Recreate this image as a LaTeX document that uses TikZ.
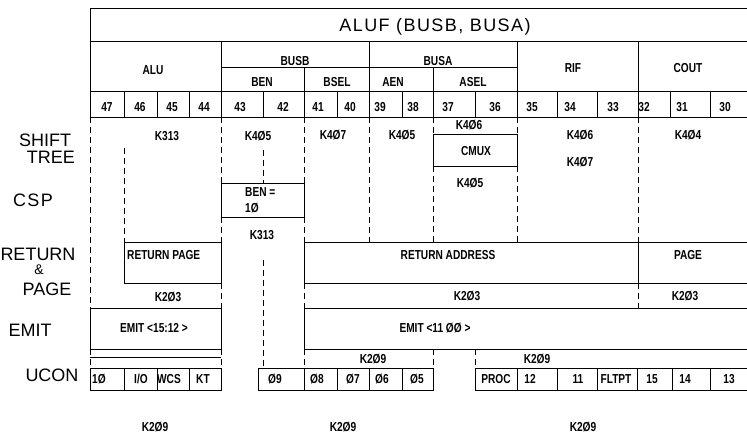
\documentclass[tikz,border=0pt]{standalone}
\usepackage{fontspec}
\setmainfont{Liberation Sans}
\newfontfamily\cond[FakeStretch=0.78]{Liberation Sans}
\newfontfamily\wide[LetterSpace=8]{Liberation Sans}
\begin{document}
\begin{tikzpicture}[x=1pt,y=-1pt,
  frame/.style={line width=0.9pt},
  dsh/.style={line width=0.9pt, dash pattern=on 6pt off 4pt},
  lbl/.style={font=\cond\bfseries\fontsize{13}{14}\selectfont, inner sep=0pt},
  big/.style={font=\wide\fontsize{18}{20}\selectfont, inner sep=0pt},
  side/.style={font=\fontsize{18}{20}\selectfont, inner sep=0pt},
]
\useasboundingbox (0,0) rectangle (747,439);

% ---------- header frame ----------
\draw[frame] (747,8) -- (90,8) -- (90,117);
\draw[frame] (90,41) -- (747,41);
\draw[frame] (221,67) -- (517,67);
\draw[frame] (90,91) -- (747,91);
\draw[frame] (90,117) -- (747,117);
\foreach \x in {221,369,517,638} \draw[frame] (\x,41) -- (\x,117);
\foreach \x in {304,433} \draw[frame] (\x,67) -- (\x,117);
\foreach \x in {124,157,189,263,337,402,475,557,597,670,710} \draw[frame] (\x,91) -- (\x,117);

\node[big] (title) at (435,27) {ALUF (BUSB, BUSA)};
\node[lbl] (galu) at (153,70) {ALU};
\node[lbl] (gbusb) at (295,61) {BUSB};
\node[lbl] (gbusa) at (438,61) {BUSA};
\node[lbl] (gben) at (262,82) {BEN};
\node[lbl] (gbsel) at (337,82) {BSEL};
\node[lbl] (gaen) at (393,82) {AEN};
\node[lbl] (gasel) at (473,82) {ASEL};
\node[lbl] (grif) at (573,68) {RIF};
\node[lbl] (gcout) at (688,68) {COUT};

\foreach \n/\x in {47/107,46/140,45/172,44/204,43/240,42/283,41/318,40/350,39/380,38/413,37/448,36/495,35/532,34/570,33/613,32/644,31/682,30/725}
  \node[lbl] (b\n) at (\x,107) {\n};

% ---------- side labels ----------
\node[side] (shift) at (45,140) {SHIFT};
\node[side] (tree) at (51,157) {TREE};
\node[side, font=\wide\fontsize{18}{20}\selectfont] (csp) at (33,200) {CSP};
\node[side] (ret) at (38,254) {RETURN};
\node[side, font=\fontsize{14}{15}\selectfont] (amp) at (39,270) {\&};
\node[side] (page) at (47,289) {PAGE};
\node[side] (emit) at (30,330) {EMIT};
\node[side] (ucon) at (52,375) {UCON};

% ---------- dashed verticals ----------
\draw[dsh] (90,117) -- (90,308);
\draw[dsh] (90,349) -- (90,368);
\draw[dsh] (124,148) -- (124,242);
\draw[dsh] (221,117) -- (221,183);
\draw[dsh] (221,217) -- (221,242);
\draw[dsh] (221,283) -- (221,308);
\draw[dsh] (221,349) -- (221,368);
\draw[dsh] (263,150) -- (263,183);
\draw[dsh] (263,260) -- (263,368);
\draw[dsh] (304,117) -- (304,183);
\draw[dsh] (304,217) -- (304,242);
\draw[dsh] (304,283) -- (304,308);
\draw[dsh] (304,349) -- (304,368);
\draw[dsh] (369,117) -- (369,242);
\draw[dsh] (433,117) -- (433,134);
\draw[dsh] (433,166) -- (433,242);
\draw[dsh] (433,349) -- (433,366);
\draw[dsh] (517,117) -- (517,134);
\draw[dsh] (517,166) -- (517,242);
\draw[dsh] (475,349) -- (475,368);
\draw[dsh] (638,117) -- (638,242);
\draw[dsh] (638,283) -- (638,308);

% ---------- shift tree / csp ----------
\node[lbl] (k313a) at (167,136) {K313};
\node[lbl] (k405a) at (258,136) {K4Ø5};
\node[lbl] (k407a) at (333,135) {K4Ø7};
\node[lbl] (k405b) at (402,135) {K4Ø5};
\node[lbl] (k406a) at (469,125) {K4Ø6};
\draw[frame] (433,134) rectangle (517,166);
\node[lbl] (cmux) at (476,151) {CMUX};
\node[lbl] (k405c) at (470,183) {K4Ø5};
\node[lbl] (k406b) at (580,135) {K4Ø6};
\node[lbl] (k407b) at (580,162) {K4Ø7};
\node[lbl] (k404) at (688,135) {K4Ø4};

\draw[frame] (221,183) rectangle (304,217);
\node[lbl, anchor=west] (ben1) at (245,192) {BEN =};
\node[lbl, anchor=west] (ben2) at (245,208) {1Ø};
\node[lbl] (k313b) at (262,235) {K313};

% ---------- return & page ----------
\draw[frame] (124,242) rectangle (221,283);
\node[lbl, anchor=west] (rpage) at (127,255) {RETURN PAGE};
\draw[frame] (747,242) -- (304,242) -- (304,283) -- (747,283);
\draw[frame] (638,242) -- (638,283);
\node[lbl] (raddr) at (448,255) {RETURN ADDRESS};
\node[lbl] (rpg) at (688,255) {PAGE};
\node[lbl] (k203a) at (168,297) {K2Ø3};
\node[lbl] (k203b) at (467,296) {K2Ø3};
\node[lbl] (k203c) at (685,296) {K2Ø3};

% ---------- emit ----------
\draw[frame] (90,308) rectangle (221,349);
\draw[line width=0.6pt] (90,357) -- (221,357);
\node[lbl] (emitl) at (154,328) {EMIT <15:12 >};
\draw[frame] (747,308) -- (304,308) -- (304,349) -- (747,349);
\node[lbl] (emitr) at (435,328) {EMIT <11 ØØ >};
\node[lbl] (k209a) at (373,359) {K2Ø9};
\node[lbl] (k209b) at (537,359) {K2Ø9};

% ---------- ucon ----------
\draw[frame] (90,368) rectangle (221,390);
\foreach \x in {124,157,189} \draw[frame] (\x,368) -- (\x,390);
\draw[frame] (258,368) rectangle (433,390);
\foreach \x in {304,337,369,402} \draw[frame] (\x,368) -- (\x,390);
\draw[frame] (747,368) -- (475,368) -- (475,390) -- (747,390);
\foreach \x in {517,557,597,637,672,710} \draw[frame] (\x,368) -- (\x,390);

\node[lbl] (u10) at (99,379) {1Ø};
\node[lbl] (uio) at (141,379) {I/O};
\node[lbl] (uwcs) at (169,379) {WCS};
\node[lbl] (ukt) at (203,379) {KT};
\node[lbl] (u09) at (275,379) {Ø9};
\node[lbl] (u08) at (317,379) {Ø8};
\node[lbl] (u07) at (353,379) {Ø7};
\node[lbl] (u06) at (382,379) {Ø6};
\node[lbl] (u05) at (417,379) {Ø5};
\node[lbl] (uproc) at (496,379) {PROC};
\node[lbl] (u12) at (530,379) {12};
\node[lbl] (u11) at (578,379) {11};
\node[lbl] (ufl) at (616,379) {FLTPT};
\node[lbl] (u15) at (652,379) {15};
\node[lbl] (u14) at (685,379) {14};
\node[lbl] (u13) at (729,379) {13};

\node[lbl] (k209c) at (155,427) {K2Ø9};
\node[lbl] (k209d) at (343,427) {K2Ø9};
\node[lbl] (k209e) at (583,427) {K2Ø9};
\end{tikzpicture}
\end{document}
